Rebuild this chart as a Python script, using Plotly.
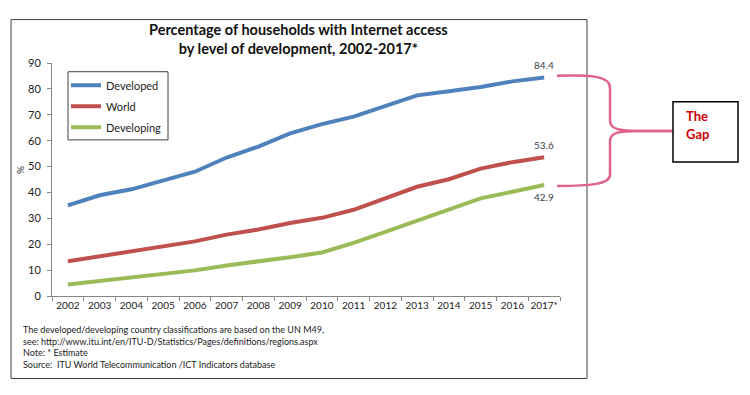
import plotly.graph_objects as go

years = ["2002", "2003", "2004", "2005", "2006", "2007", "2008", "2009",
         "2010", "2011", "2012", "2013", "2014", "2015", "2016", "2017*"]
developed = [35.0, 38.9, 41.2, 44.4, 48.0, 53.5, 57.7, 62.8,
             66.4, 69.3, 73.4, 77.5, 79.1, 80.7, 82.9, 84.4]
world = [13.4, 15.4, 17.2, 19.2, 21.1, 23.7, 25.7, 28.2,
         30.2, 33.3, 37.7, 42.2, 45.1, 49.2, 51.7, 53.6]
developing = [4.4, 5.8, 6.9, 8.3, 9.9, 11.8, 13.3, 15.0,
              16.8, 20.5, 24.8, 29.1, 33.0, 37.7, 40.3, 42.9]

series = [("Developed", developed, "#4F81BD"),
          ("World", world, "#C0504D"),
          ("Developing", developing, "#9BBB59")]
labels_end = [("84.4", developed[-1], 13), ("53.6", world[-1], 12), ("42.9", developing[-1], -12)]

# page body has an 8px margin: work in window pixels and shift into figure pixels
OFF = 8
W, H = 750 - OFF, 395 - OFF
L, R, T, B = 52, 560, 63.3, 295.7  # plot area in window pixels


def px(x):
    return (x - L) / (R - L)


def py(y):
    return (B - y) / (B - T)


FONT = "Lato"
fig = go.Figure()
for i, (name, vals, col) in enumerate(series):
    fig.add_trace(go.Scatter(x=years, y=vals, mode="lines", name=name,
                             line=dict(color=col, width=4), legendgroup=str(i)))

for txt, v, sh in labels_end:
    fig.add_annotation(x=years[-1], y=v, text=txt, showarrow=False, yshift=sh,
                       font=dict(family=FONT, size=10, color="#404040"))


def note(x, y, text, size, color, xanchor="left", angle=0):
    fig.add_annotation(xref="paper", yref="paper", x=px(x), y=py(y), showarrow=False,
                       xanchor=xanchor, yanchor="middle", text=text, textangle=angle,
                       font=dict(family=FONT, size=size, color=color))


# Title
note(298, 39.5, "<b>Percentage of households with Internet access</b><br>"
                "<b>by level of development, 2002-2017*</b>", 14.5, "#111111", "center")

# Y-axis title
note(20, 170, "%", 10, "#222222", "center", -90)

# Footnotes
notes = ["The developed/developing country classifications are based on the UN M49,",
         "see: http://www.itu.int/en/ITU-D/Statistics/Pages/definitions/regions.aspx",
         "Note: * Estimate",
         "Source:  ITU World Telecommunication /ICT Indicators database"]
for k, n in enumerate(notes):
    note(21, 329.5 + 11.5 * k, n, 9, "#222222")

# Outer border
fig.add_shape(type="rect", xref="paper", yref="paper", x0=px(11), x1=px(587),
              y0=py(20), y1=py(378), line=dict(color="#404040", width=1), layer="above")

# Legend frame
fig.add_shape(type="rect", xref="paper", yref="paper", x0=px(68), x1=px(168),
              y0=py(72), y1=py(140), line=dict(color="#404040", width=1), layer="above")

# Bracket
def P(x, y):
    return f"{px(x):.5f},{py(y):.5f}"

path_top = (f"M {P(557,76)} C {P(590,75)} {P(610,76)} {P(610,88)} L {P(610,121)} "
            f"C {P(610,129)} {P(618,131)} {P(640,131)} L {P(673,131)}")
path_bot = (f"M {P(673,131)} L {P(640,131)} C {P(618,131)} {P(610,133)} {P(610,141)} "
            f"L {P(610,175)} C {P(610,184)} {P(590,186)} {P(557,186)}")
for pth in (path_top, path_bot):
    fig.add_shape(type="path", xref="paper", yref="paper", path=pth,
                  line=dict(color="#E0628F", width=2.5))

# Gap box
fig.add_shape(type="rect", xref="paper", yref="paper", x0=px(673), x1=px(738),
              y0=py(102), y1=py(162), line=dict(color="#000000", width=1.5),
              fillcolor="white")
note(684, 116, "<b>The</b>", 13, "#CC0000")
note(684, 134, "<b>Gap</b>", 13, "#CC0000")

fig.update_layout(
    width=W, height=H,
    margin=dict(l=L - OFF, r=W - (R - OFF), t=T - OFF, b=H - (B - OFF), pad=0),
    paper_bgcolor="white", plot_bgcolor="white",
    font=dict(family=FONT, size=11, color="#222222"),
    showlegend=True,
    legend=dict(x=px(66), y=py(71), xanchor="left", yanchor="top",
                borderwidth=0, bgcolor="rgba(255,255,255,0)",
                font=dict(family=FONT, size=11, color="#222222"),
                tracegroupgap=2, traceorder="grouped"),
    xaxis=dict(type="category", categoryorder="array", categoryarray=years,
               range=[-0.5, 15.5], tickson="boundaries", ticks="outside", ticklen=4,
               tickcolor="#868686", showline=True, linecolor="#868686", linewidth=1,
               showgrid=False, zeroline=False, fixedrange=True, automargin=False,
               tickangle=0,
               tickfont=dict(family=FONT, size=10, color="#222222")),
    yaxis=dict(range=[0, 90], dtick=10, ticks="outside", ticklen=4, tickcolor="#868686",
               showline=True, linecolor="#868686", linewidth=1, showgrid=False,
               zeroline=False, fixedrange=True, automargin=False,
               ticklabelstandoff=4,
               tickfont=dict(family=FONT, size=11, color="#222222")),
)

fig.write_html("out.html")
